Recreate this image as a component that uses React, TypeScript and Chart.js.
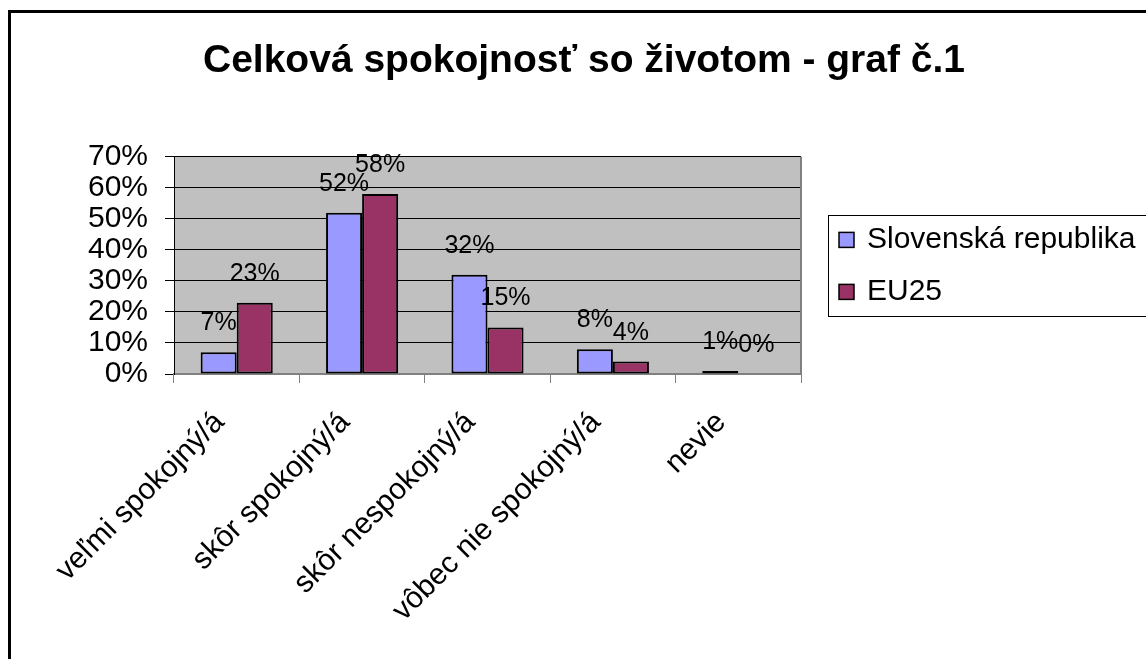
import React, { useEffect, useRef } from 'react';
import { Chart, registerables } from 'chart.js';

Chart.register(...registerables);

const titleText = 'Celková spokojnosť so životom - graf č.1';
const categories = ['veľmi spokojný/á', 'skôr spokojný/á', 'skôr nespokojný/á', 'vôbec nie spokojný/á', 'nevie'];
const seriesNames = ['Slovenská republika', 'EU25'];
const slovakValues = [7, 52, 32, 8, 1];
const euValues = [23, 58, 15, 4, 0];
const yMax = 70;
const yStep = 10;

const FONT = "'Liberation Sans', Arial, Helvetica, sans-serif";
const SR_COLOR = '#9999FF';
const EU_COLOR = '#993366';

const plotBgPlugin = {
  id: 'plotBg',
  beforeDraw(chart: any) {
    const { ctx, chartArea: a } = chart;
    ctx.save();
    ctx.fillStyle = '#C0C0C0';
    ctx.fillRect(a.left, a.top, a.right - a.left, a.bottom - a.top);
    ctx.restore();
  },
  beforeDatasetsDraw(chart: any) {
    const { ctx, chartArea: a } = chart;
    ctx.save();
    ctx.strokeStyle = '#808080';
    ctx.lineWidth = 2;
    ctx.beginPath();
    ctx.moveTo(a.right, a.top);
    ctx.lineTo(a.right, a.bottom);
    ctx.stroke();
    ctx.restore();
  },
};

const dataLabelPlugin = {
  id: 'dataLabels',
  afterDatasetsDraw(chart: any) {
    const { ctx } = chart;
    ctx.save();
    ctx.font = `25px ${FONT}`;
    ctx.fillStyle = '#000';
    ctx.textAlign = 'center';
    ctx.textBaseline = 'alphabetic';
    chart.data.datasets.forEach((ds: any, di: number) => {
      const meta = chart.getDatasetMeta(di);
      meta.data.forEach((el: any, i: number) => {
        ctx.fillText(`${ds.data[i]}%`, el.x, el.y - 22);
      });
    });
    ctx.restore();
  },
};

const legendPlugin = {
  id: 'boxLegend',
  afterDraw(chart: any) {
    const { ctx, chartArea: a, width } = chart;
    const x0 = a.right + 27;
    const cy = (a.top + a.bottom) / 2;
    const h = 101;
    ctx.save();
    ctx.strokeStyle = '#000';
    ctx.lineWidth = 1;
    ctx.strokeRect(x0 + 0.5, Math.round(cy - h / 2) + 0.5, width - x0 + 20, h);
    ctx.font = `30px ${FONT}`;
    ctx.textBaseline = 'middle';
    ctx.textAlign = 'left';
    chart.data.datasets.forEach((ds: any, i: number) => {
      const ry = cy - 26 + 52 * i;
      ctx.fillStyle = ds.backgroundColor;
      ctx.fillRect(x0 + 11, ry - 7, 15, 15);
      ctx.lineWidth = 1.5;
      ctx.strokeStyle = '#000';
      ctx.strokeRect(x0 + 11, ry - 7, 15, 15);
      ctx.fillStyle = '#000';
      ctx.fillText(ds.label, x0 + 39, ry);
    });
    ctx.restore();
  },
};

export default function App() {
  const canvasRef = useRef<HTMLCanvasElement | null>(null);

  useEffect(() => {
    const canvas = canvasRef.current;
    if (!canvas) return;
    const chart = new Chart(canvas, {
      type: 'bar',
      data: {
        labels: categories,
        datasets: [
          {
            label: seriesNames[0],
            data: slovakValues,
            backgroundColor: SR_COLOR,
            borderColor: '#000',
            borderWidth: 2,
            borderSkipped: false,
            barPercentage: 1,
            categoryPercentage: 0.575,
          },
          {
            label: seriesNames[1],
            data: euValues,
            backgroundColor: EU_COLOR,
            borderColor: '#000',
            borderWidth: 2,
            borderSkipped: false,
            barPercentage: 1,
            categoryPercentage: 0.575,
          },
        ],
      },
      options: {
        responsive: false,
        animation: false,
        devicePixelRatio: 1,
        layout: { padding: 0 },
        plugins: {
          legend: { display: false },
          tooltip: { enabled: false },
          title: {
            display: true,
            text: titleText,
            color: '#000',
            align: 'center',
            font: { family: FONT, size: 39, weight: 'bold', lineHeight: 1.2 },
            padding: { top: 25, bottom: 72 },
          },
        },
        scales: {
          x: {
            afterFit: (scale: any) => {
              scale.height = 285;
            },
            grid: {
              display: true,
              drawOnChartArea: false,
              drawTicks: true,
              tickLength: 9,
              tickColor: '#808080',
              offset: true,
            },
            border: { display: true, color: '#808080', width: 2 },
            ticks: {
              color: '#000',
              font: { family: FONT, size: 30 },
              minRotation: 45,
              maxRotation: 45,
              autoSkip: false,
              padding: 22,
              labelOffset: -17,
            },
          },
          y: {
            min: 0,
            max: yMax,
            afterFit: (scale: any) => {
              scale.width = 163;
            },
            grid: {
              color: '#000',
              lineWidth: 1,
              drawTicks: true,
              tickLength: 9,
              tickColor: '#000',
            },
            border: { display: true, color: '#000', width: 1 },
            ticks: {
              stepSize: yStep,
              autoSkip: false,
              color: '#000',
              font: { family: FONT, size: 30, lineHeight: 1 },
              padding: 17,
              callback: (v: any) => `${v}%`,
            },
          },
          legendSpace: {
            type: 'linear',
            position: 'right',
            display: true,
            afterFit: (scale: any) => {
              scale.width = 356;
            },
            grid: { display: false, drawTicks: false },
            border: { display: false },
            ticks: { display: false },
          },
        },
      },
      plugins: [plotBgPlugin, dataLabelPlugin, legendPlugin],
    });
    return () => chart.destroy();
  }, []);

  return (
    <div
      style={{
        position: 'fixed',
        left: 0,
        top: 0,
        width: '100vw',
        height: '100vh',
        overflow: 'hidden',
        background: '#fff',
      }}
    >
      <div style={{ position: 'absolute', left: 8, top: 10, border: '3px solid #000' }}>
        <canvas ref={canvasRef} width={1146} height={646} style={{ display: 'block', width: 1146, height: 646 }} />
      </div>
    </div>
  );
}
